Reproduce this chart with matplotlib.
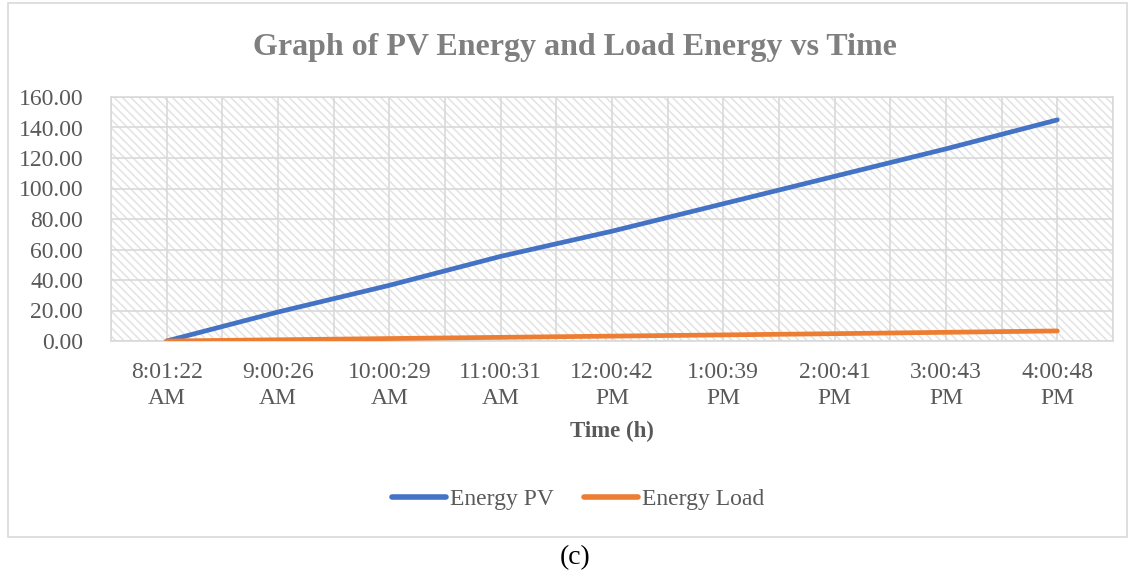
import matplotlib
matplotlib.use("Agg")
import matplotlib.pyplot as plt
from matplotlib.patches import Rectangle
from matplotlib.ticker import MultipleLocator

times = ["8:01:22\nAM", "9:00:26\nAM", "10:00:29\nAM", "11:00:31\nAM", "12:00:42\nPM",
         "1:00:39\nPM", "2:00:41\nPM", "3:00:43\nPM", "4:00:48\nPM"]
energy_pv = [0.0, 19.0, 36.5, 55.5, 72.0, 90.0, 108.0, 126.0, 145.0]
energy_load = [0.0, 0.8, 1.6, 2.4, 3.2, 4.0, 4.8, 5.7, 6.6]

plt.rcParams['font.family'] = ['Liberation Serif', 'DejaVu Serif']
txt = '#595959'
grid_c = '#d9d9d9'

fig = plt.figure(figsize=(11.35, 5.75), dpi=100)
W, H = 1135, 575

# outer chart border
fig.patches.append(Rectangle((8 / W, 1 - 537 / H), (1127 - 8) / W, (537 - 3) / H,
                             transform=fig.transFigure, fill=False,
                             edgecolor='#d9d9d9', linewidth=1.2))

ax = fig.add_axes([111 / W, 1 - 341 / H, (1113 - 111) / W, (341 - 97) / H])
x = list(range(len(times)))

# hatched background
plt.rcParams['hatch.linewidth'] = 1.1
bg = Rectangle((0, 0), 1, 1, transform=ax.transAxes, facecolor='white',
               edgecolor='#e3e3e3', hatch='\\\\\\\\', linewidth=0, zorder=0)
ax.add_patch(bg)
ax.set_facecolor('white')

ax.plot(x, energy_pv, color='#4472C4', linewidth=3.4, solid_capstyle='round',
        label='Energy PV', zorder=3)
ax.plot(x, energy_load, color='#ED7D31', linewidth=3.4, solid_capstyle='round',
        label='Energy Load', zorder=3)

ax.set_xlim(-0.5, 8.5)
ax.set_ylim(0, 160)
ax.yaxis.set_major_locator(MultipleLocator(20))
ax.set_yticklabels([f"{v:.2f}" for v in ax.get_yticks()])
ax.set_xticks(x)
ax.set_xticklabels(times, linespacing=1.3)
ax.xaxis.set_minor_locator(MultipleLocator(0.5))
ax.grid(True, which='both', axis='x', color=grid_c, linewidth=1.2, zorder=1)
ax.grid(True, which='major', axis='y', color=grid_c, linewidth=1.2, zorder=1)
ax.set_axisbelow(True)
ax.tick_params(axis='both', which='both', length=0, labelsize=17, colors=txt)
ax.tick_params(axis='y', pad=20)
ax.tick_params(axis='x', pad=15)
for s in ax.spines.values():
    s.set_color(grid_c)
    s.set_linewidth(1.2)

ax.set_xlabel('Time (h)', fontsize=16.5, fontweight='bold', color=txt, labelpad=9)

fig.text(575 / W, 1 - 47 / H, 'Graph of PV Energy and Load Energy vs Time',
         ha='center', va='center', fontsize=23, fontweight='bold', color='#7f7f7f')

leg = fig.legend(loc='center', bbox_to_anchor=(578 / W, 1 - 499 / H), ncol=2,
                 frameon=False, fontsize=17, handlelength=2.3, handletextpad=0.15,
                 columnspacing=1.3)
for t in leg.get_texts():
    t.set_color(txt)
for l in leg.get_lines():
    l.set_linewidth(4)

fig.text(575 / W, 1 - 558 / H, '(c)', ha='center', va='center', fontsize=20, color='black')

fig.savefig('out.png', dpi=100)
